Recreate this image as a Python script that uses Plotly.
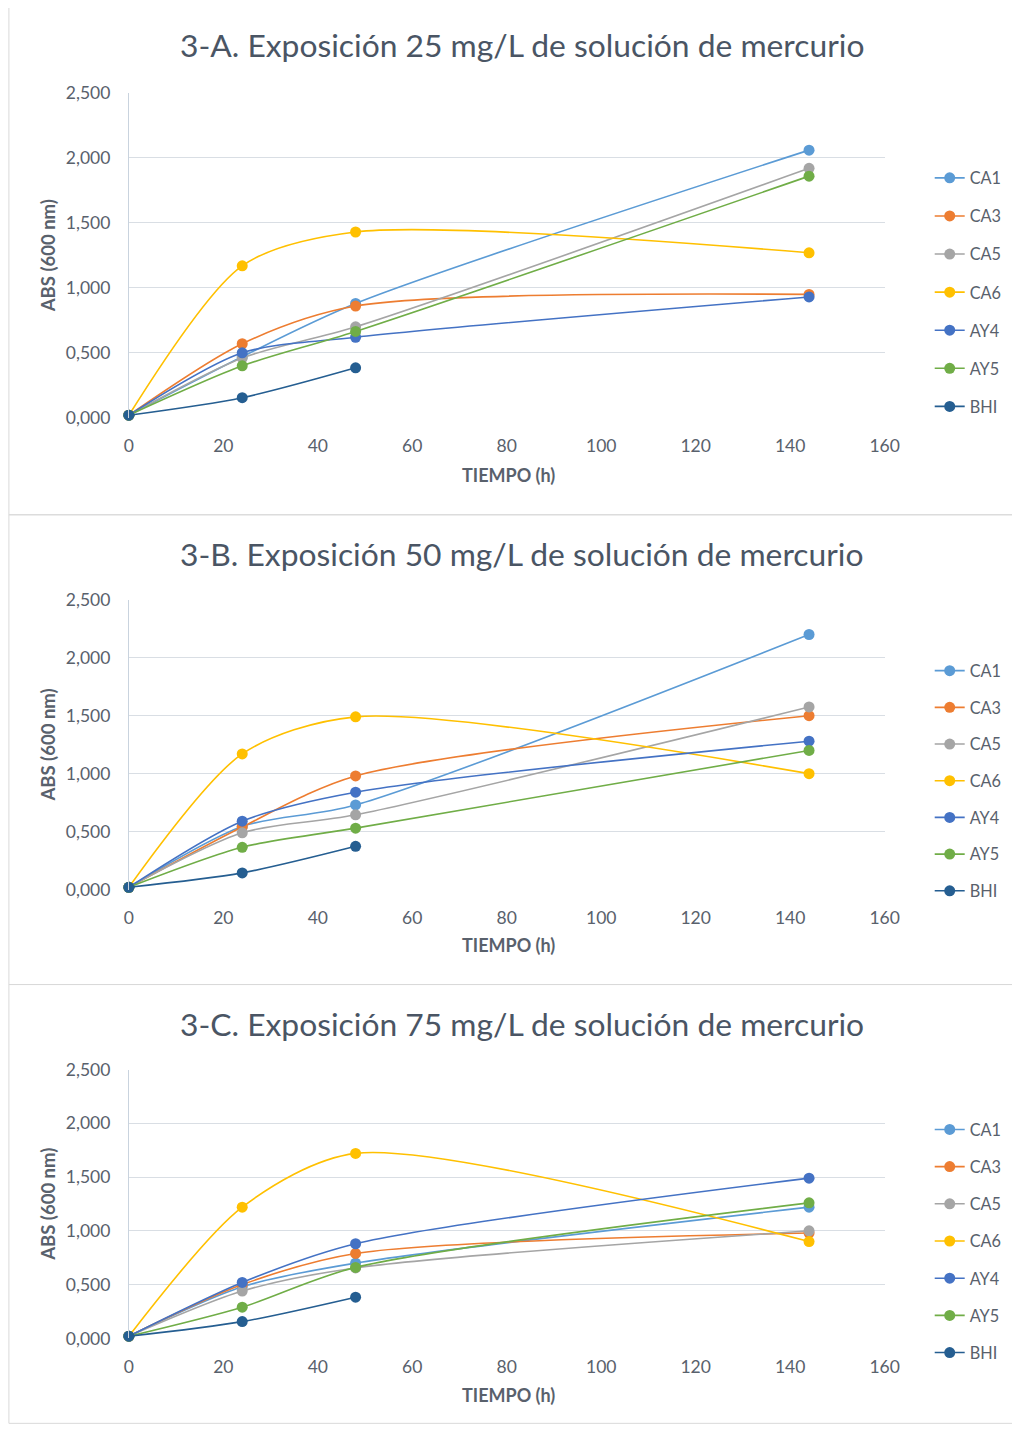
import plotly.graph_objects as go

# ---------------- data ----------------
tiempo = [0, 24, 48, 144]
tiempo_bhi = [0, 24, 48]
series_names = ["CA1", "CA3", "CA5", "CA6", "AY4", "AY5", "BHI"]
colors = ["#5B9BD5", "#ED7D31", "#A5A5A5", "#FFC000", "#4472C4", "#70AD47", "#255E91"]

titles = [
    "3-A. Exposición 25 mg/L de solución de mercurio",
    "3-B. Exposición 50 mg/L de solución de mercurio",
    "3-C. Exposición 75 mg/L de solución de mercurio",
]

# Panel A (25 mg/L)
a_CA1 = [0.02, 0.47, 0.88, 2.06]
a_CA3 = [0.02, 0.57, 0.86, 0.95]
a_CA5 = [0.02, 0.46, 0.70, 1.92]
a_CA6 = [0.02, 1.17, 1.43, 1.27]
a_AY4 = [0.02, 0.50, 0.62, 0.93]
a_AY5 = [0.02, 0.40, 0.665, 1.86]
a_BHI = [0.02, 0.155, 0.385]

# Panel B (50 mg/L)
b_CA1 = [0.02, 0.545, 0.73, 2.20]
b_CA3 = [0.02, 0.54, 0.98, 1.50]
b_CA5 = [0.02, 0.49, 0.645, 1.575]
b_CA6 = [0.02, 1.17, 1.49, 1.00]
b_AY4 = [0.02, 0.59, 0.84, 1.28]
b_AY5 = [0.02, 0.365, 0.53, 1.20]
b_BHI = [0.02, 0.144, 0.373]

# Panel C (75 mg/L)
c_CA1 = [0.02, 0.48, 0.70, 1.22]
c_CA3 = [0.02, 0.50, 0.79, 0.98]
c_CA5 = [0.02, 0.44, 0.655, 1.00]
c_CA6 = [0.02, 1.22, 1.72, 0.90]
c_AY4 = [0.02, 0.52, 0.88, 1.49]
c_AY5 = [0.02, 0.29, 0.66, 1.26]
c_BHI = [0.02, 0.156, 0.383]

panels = [
    [a_CA1, a_CA3, a_CA5, a_CA6, a_AY4, a_AY5, a_BHI],
    [b_CA1, b_CA3, b_CA5, b_CA6, b_AY4, b_AY5, b_BHI],
    [c_CA1, c_CA3, c_CA5, c_CA6, c_AY4, c_AY5, c_BHI],
]

x_ticks = [0, 20, 40, 60, 80, 100, 120, 140, 160]
y_ticks = [0.0, 0.5, 1.0, 1.5, 2.0, 2.5]

# ---------------- layout geometry (target screen pixels) ----------------
W, H = 1036, 1452
SX, AX = 0.981, 12.1          # observed screen mapping of the page
SY, AY = 0.986, 19.0

plot_x0, plot_x1 = 128, 884
plot_rows = [(93, 418), (600, 890), (1070, 1339)]
panel_boxes = [(6, 515), (515, 985), (985, 1424)]
title_y = [45, 554, 1024]
xtitle_y = [475, 945, 1396]
legend_first = [178, 671, 1130]
legend_gap = [13.9, 12.5, 13.0]

TXT = "#59616C"
TTL = "#4A5564"
GRID = "#D9DEE4"
FONT = "Lato"

def fx(r):
    return (r - AX) / SX

def fy(r):
    return (r - AY) / SY

def px(r):
    return fx(r) / W

def py(r):
    return 1 - fy(r) / H

fig = go.Figure()

for i, data in enumerate(panels):
    xa = "x" if i == 0 else f"x{i+1}"
    ya = "y" if i == 0 else f"y{i+1}"
    lg = "legend" if i == 0 else f"legend{i+1}"
    for name, col, vals in zip(series_names, colors, data):
        xs = tiempo_bhi if name == "BHI" else tiempo
        fig.add_trace(go.Scatter(
            x=xs, y=vals, name=name, mode="lines+markers",
            line=dict(color=col, width=1.6, shape="spline", smoothing=0.8),
            marker=dict(color=col, size=11),
            xaxis=xa, yaxis=ya, legend=lg, legendgroup=f"{i}-{name}",
            cliponaxis=False,
        ))

    y0, y1 = plot_rows[i]
    axx = dict(
        domain=[px(plot_x0), px(plot_x1)], range=[0, 160], tickvals=x_ticks,
        showgrid=False, zeroline=False, showline=False,
        tickfont=dict(family=FONT, size=17.5, color=TXT), ticks="",
        ticklabelstandoff=16,
        anchor=ya, fixedrange=True,
    )
    axy = dict(
        domain=[py(y1), py(y0)], range=[0, 2.5], tickvals=y_ticks, tickformat=".3f",
        showgrid=True, gridcolor=GRID, gridwidth=1, zeroline=False,
        showline=True, linecolor="#C9D3DE", linewidth=1,
        tickfont=dict(family=FONT, size=17.5, color=TXT), ticks="",
        ticklabelstandoff=14,
        anchor=xa, fixedrange=True,
    )
    fig.layout[("xaxis" if i == 0 else f"xaxis{i+1}")] = axx
    fig.layout[("yaxis" if i == 0 else f"yaxis{i+1}")] = axy

    fig.layout[lg] = dict(
        x=(fx(934) - 5) / W, y=1 - (fy(legend_first[i]) - 17.4) / H,
        xanchor="left", yanchor="top",
        font=dict(family=FONT, size=16.3, color=TXT), tracegroupgap=legend_gap[i],
        bgcolor="rgba(0,0,0,0)", traceorder="grouped",
    )

    # titles
    fig.add_annotation(text=titles[i], x=px(521), y=py(title_y[i]), xref="paper", yref="paper",
                       showarrow=False, xanchor="center", yanchor="middle",
                       font=dict(family=FONT, size=31.8, color=TTL))
    fig.add_annotation(text="<b>TIEMPO (h)</b>", x=px(508), y=py(xtitle_y[i]), xref="paper", yref="paper",
                       showarrow=False, xanchor="center", yanchor="middle",
                       font=dict(family=FONT, size=18, color=TXT))
    fig.add_annotation(text="<b>ABS (600 nm)</b>", x=px(47), y=py((y0 + y1) / 2), xref="paper", yref="paper",
                       showarrow=False, xanchor="center", yanchor="middle", textangle=-90,
                       font=dict(family=FONT, size=18.5, color=TXT))

    # panel border
    b0, b1 = panel_boxes[i]
    fig.add_shape(type="rect", xref="paper", yref="paper", x0=px(8), x1=px(1018),
                  y0=py(b1), y1=py(b0), line=dict(color="#D9D9D9", width=1), layer="below")

fig.update_layout(
    width=W, height=H, margin=dict(l=0, r=0, t=0, b=0),
    paper_bgcolor="white", plot_bgcolor="white",
    separators=",.", showlegend=True,
)

fig.write_html("out.html")
